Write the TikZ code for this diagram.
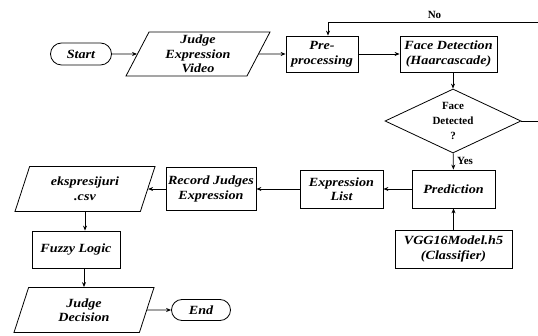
\documentclass[tikz,border=0pt]{standalone}
\usepackage{fontspec}
\setmainfont{Liberation Serif}
\newfontfamily\boxfont{Liberation Serif}[FakeStretch=1.13]
\usetikzlibrary{shapes.geometric,shapes.misc,arrows.meta}

\tikzset{
  boxtext/.style={font=\boxfont\fontsize{12.5}{14.5}\selectfont\bfseries\itshape, align=center},
  process/.style={draw, rectangle, boxtext, inner sep=1pt},
  inout/.style={draw, trapezium, trapezium left angle=60, trapezium right angle=120,
    trapezium stretches body, boxtext, inner sep=1pt},
  terminal/.style={draw, rounded rectangle, boxtext, inner sep=1pt},
  decision/.style={draw, diamond, aspect=2.1, align=center, inner sep=0pt,
    font=\fontsize{11}{15}\selectfont\bfseries},
}

\begin{document}
\begin{tikzpicture}[x=1pt, y=-1pt, line width=0.8pt, >={Stealth[length=5pt,width=4pt]}]
\useasboundingbox (0,0) rectangle (538,336);

\node[terminal, minimum width=63pt, minimum height=22pt] (start) at (81,54) {Start};
\node[inout, minimum width=144pt, minimum height=44pt] (judge_video) at (198,54) {Judge \\ Expression \\ Video};
\node[process, minimum width=72pt, minimum height=36pt] (preprocessing) at (322,54) {Pre- \\ processing};
\node[process, minimum width=97pt, minimum height=36pt] (face_detection) at (448.5,54) {Face Detection \\ (Haarcascade)};
\node[decision, minimum width=136pt, minimum height=64pt] (face_detected) at (453,121) {Face \\ Detected \\ ?};
\node[process, minimum width=83pt, minimum height=38pt] (prediction) at (453.5,189) {Prediction};
\node[process, minimum width=117pt, minimum height=38pt] (vgg_model) at (453.5,249) {VGG16Model.h5 \\ (Classifier)};
\node[process, minimum width=83pt, minimum height=38pt] (expression_list) at (341.5,189) {Expression \\ List};
\node[process, minimum width=90pt, minimum height=43pt] (record_judges) at (211,189) {Record Judges \\ Expression};
\node[inout, minimum width=140pt, minimum height=45pt] (ekspresijuri) at (85,189) {ekspresijuri \\ .csv};
\node[process, minimum width=88pt, minimum height=37pt] (fuzzy_logic) at (76,249.5) {Fuzzy Logic};
\node[inout, minimum width=140pt, minimum height=45pt] (judge_decision) at (84,310) {Judge \\ Decision};
\node[terminal, minimum width=61pt, minimum height=21pt] (end) at (201,310) {End};

\coordinate (no_corner) at (541,22);

\draw[->] (start) -- (judge_video);
\draw[->] (judge_video) -- (preprocessing);
\draw[->] (preprocessing) -- (face_detection);
\draw[->] (face_detection.south -| face_detected) -- (face_detected.north);
\draw[->] (face_detected) -- node[right, font=\fontsize{11}{13}\selectfont\bfseries, pos=0.45] {Yes} (prediction);
\draw[->] (face_detected.east) -| (no_corner) -- node[above, font=\fontsize{11}{13}\selectfont\bfseries] {No} ([xshift=6pt]preprocessing.north |- no_corner) -- ([xshift=6pt]preprocessing.north);
\draw[->] (vgg_model) -- (prediction);
\draw[->] (prediction) -- (expression_list);
\draw[->] (expression_list) -- (record_judges);
\draw[->] (record_judges) -- (ekspresijuri);
\draw[->] (ekspresijuri.south) -- (ekspresijuri.south |- fuzzy_logic.north);
\draw[->] (fuzzy_logic.south -| judge_decision.north) -- (judge_decision.north);
\draw[->] (judge_decision) -- (end);
\end{tikzpicture}
\end{document}
